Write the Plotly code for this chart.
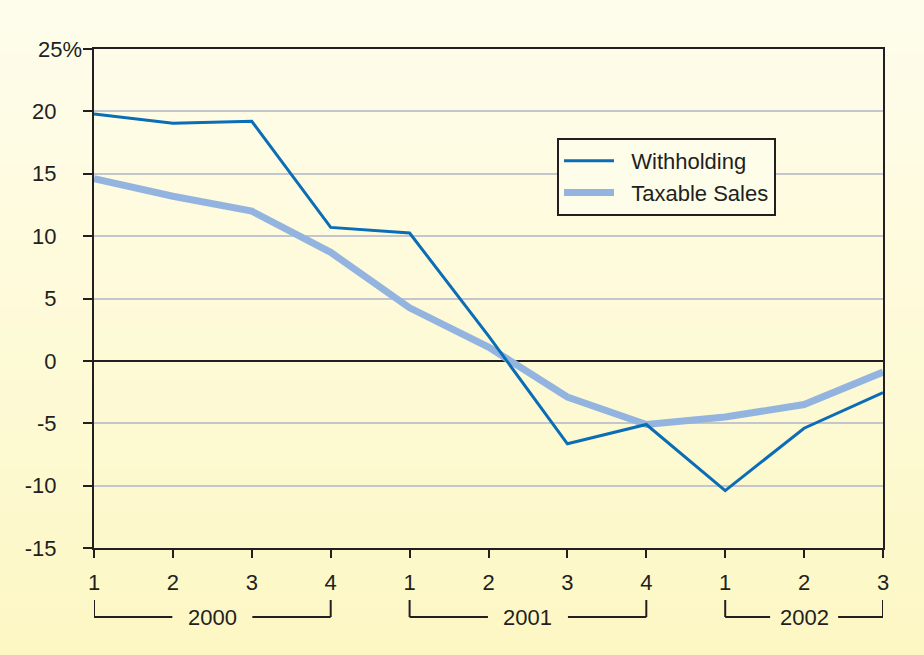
import plotly.graph_objects as go

# ---- data ----
quarter_labels = ["1", "2", "3", "4", "1", "2", "3", "4", "1", "2", "3"]
withholding = [19.8, 19.05, 19.2, 10.7, 10.25, 2.0, -6.65, -5.1, -10.4, -5.4, -2.55]
taxable_sales = [14.6, 13.2, 12.0, 8.7, 4.25, 1.1, -2.9, -5.1, -4.5, -3.5, -0.9]
years = ["2000", "2001", "2002"]
year_spans = [(0, 3), (4, 7), (8, 10)]
y_tickvals = [25, 20, 15, 10, 5, 0, -5, -10, -15]
y_ticktext = ["25%", "20", "15", "10", "5", "0", "-5", "-10", "-15"]

x_idx = list(range(len(quarter_labels)))
FONT = "Liberation Sans, Arial, sans-serif"
INK = "#231F20"
FS = 22
PAD = "\u00a0\u00a0"

W, H = 924, 655
ml, mr, mt, mb = 94, 41, 49, 107
pw, ph = W - ml - mr, H - mt - mb

fig = go.Figure()
fig.add_trace(go.Scatter(x=x_idx, y=taxable_sales, mode="lines", name=PAD + "Taxable Sales",
                         line=dict(color="#94B4E0", width=7)))
fig.add_trace(go.Scatter(x=x_idx, y=withholding, mode="lines", name=PAD + "Withholding",
                         line=dict(color="#0A6DB5", width=3)))

shapes = []
# background vertical gradient
top = (0xFE, 0xFD, 0xEC)
bot = (0xFD, 0xF7, 0xC4)
N = 60
y0p = -mb / ph
y1p = 1 + mt / ph
x0p = -ml / pw
x1p = 1 + mr / pw
for i in range(N):
    t = i / (N - 1)
    c = tuple(round(top[k] + (bot[k] - top[k]) * t) for k in range(3))
    ya = y1p - (y1p - y0p) * i / N
    yb = y1p - (y1p - y0p) * (i + 1) / N - 0.002
    shapes.append(dict(type="rect", xref="paper", yref="paper", x0=x0p, x1=x1p,
                       y0=yb, y1=ya, fillcolor="rgb(%d,%d,%d)" % c,
                       line=dict(width=0), layer="below"))

# year brackets
yv0 = -(600 - 548) / ph
yv1 = -(617 - 548) / ph
annotations = []
px_per_unit = pw / 10
half_gap = 40 / px_per_unit
for yr, (a, b) in zip(years, year_spans):
    c = (a + b) / 2
    line = dict(color=INK, width=2)
    shapes.append(dict(type="line", xref="x", yref="paper", x0=a, x1=a, y0=yv0, y1=yv1, line=line))
    shapes.append(dict(type="line", xref="x", yref="paper", x0=b, x1=b, y0=yv0, y1=yv1, line=line))
    hg = half_gap if b - a > 2 else half_gap * 0.85
    shapes.append(dict(type="line", xref="x", yref="paper", x0=a, x1=c - hg, y0=yv1, y1=yv1, line=line))
    shapes.append(dict(type="line", xref="x", yref="paper", x0=c + hg, x1=b, y0=yv1, y1=yv1, line=line))
    annotations.append(dict(x=c, y=yv1, xref="x", yref="paper", text=yr, showarrow=False,
                            font=dict(family=FONT, size=FS, color=INK), xanchor="center", yanchor="middle"))

# top tick label: the "%" hangs past the right edge of the other labels
annotations.append(dict(x=-(94 - 36) / pw, y=1, xref="paper", yref="y domain", text=y_ticktext[0],
                        showarrow=False, xanchor="left", yanchor="middle",
                        font=dict(family=FONT, size=FS, color=INK)))
tick_text_axis = [""] + y_ticktext[1:]

fig.update_layout(
    width=W, height=H,
    margin=dict(l=ml, r=mr, t=mt, b=mb, pad=0),
    paper_bgcolor="#FEFAD8",
    plot_bgcolor="rgba(0,0,0,0)",
    shapes=shapes,
    annotations=annotations,
    showlegend=True,
    legend=dict(x=(557 - ml) / pw, y=(548 - 138) / ph, xanchor="left", yanchor="top",
                bgcolor="#FEFDE9", bordercolor=INK, borderwidth=2,
                font=dict(family=FONT, size=FS, color=INK), traceorder="reversed",
                tracegroupgap=0, itemwidth=50),
    font=dict(family=FONT, size=FS, color=INK),
)
fig.update_xaxes(range=[0, 10], tickvals=x_idx, ticktext=quarter_labels,
                 showgrid=False, zeroline=False, showline=True, linecolor=INK, linewidth=2,
                 mirror=True, ticks="outside", ticklen=8, tickwidth=2, tickcolor=INK,
                 tickfont=dict(family=FONT, size=FS, color=INK), ticklabelstandoff=6)
fig.update_yaxes(range=[-15, 25], tickvals=y_tickvals, ticktext=tick_text_axis,
                 showgrid=True, gridcolor="#C3C6CC", gridwidth=2,
                 zeroline=True, zerolinecolor=INK, zerolinewidth=2,
                 showline=True, linecolor=INK, linewidth=2, mirror=True,
                 ticks="outside", ticklen=9, tickwidth=2, tickcolor=INK,
                 tickfont=dict(family=FONT, size=FS, color=INK), ticklabelstandoff=22)

fig.write_html("out.html", config={"displayModeBar": False},
               post_script="document.body.style.margin='0';document.body.style.overflow='hidden';")
